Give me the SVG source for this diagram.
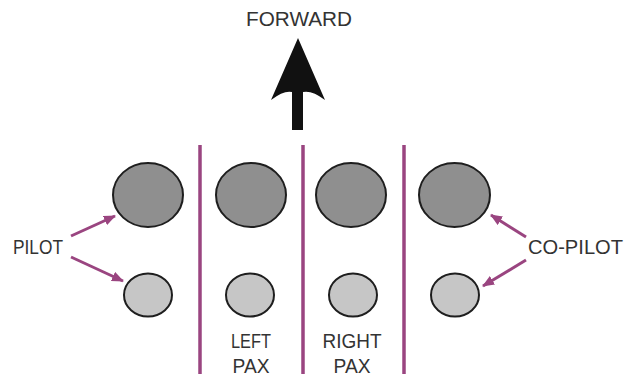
<svg xmlns="http://www.w3.org/2000/svg" width="637" height="376" viewBox="0 0 637 376">
  <style>
    .lbl { font-family: "Liberation Sans", Arial, sans-serif; font-size: 20px; fill: #333; }
    .div { stroke: #9a4580; stroke-width: 3.5; }
    .seat { fill: #8f8f8f; stroke: #1e1e1e; stroke-width: 2; }
    .cush { fill: #c6c6c6; stroke: #1e1e1e; stroke-width: 2; }
    .ptr { stroke: #9a4580; stroke-width: 3; fill: none; marker-end: url(#head); }
  </style>
  <defs>
    <marker id="head" viewBox="0 0 12 10" refX="11" refY="5" markerWidth="12" markerHeight="10" markerUnits="userSpaceOnUse" orient="auto">
      <path d="M0,0 L12,5 L0,10 Z" fill="#9a4580"/>
    </marker>
  </defs>

  <rect width="637" height="376" fill="#ffffff"/>

  <!-- direction of travel -->
  <g id="forward">
    <text class="lbl" x="299" y="26" text-anchor="middle" textLength="106" lengthAdjust="spacingAndGlyphs">FORWARD</text>
    <path d="M298,38 L325,100 Q312,90 303,92 L303,130 L292,130 L292,92 Q284,90 271,100 Z" fill="#111"/>
  </g>

  <!-- row dividers -->
  <g id="dividers">
    <line class="div" x1="200" y1="145" x2="200" y2="374"/>
    <line class="div" x1="303" y1="145" x2="303" y2="374"/>
    <line class="div" x1="404" y1="145" x2="404" y2="374"/>
  </g>

  <g id="seat-pilot">
    <ellipse class="seat" cx="148" cy="195" rx="35" ry="32"/>
    <ellipse class="cush" cx="148" cy="295" rx="24" ry="21.5"/>
  </g>
  <g id="seat-left-pax">
    <ellipse class="seat" cx="251" cy="195" rx="35" ry="32"/>
    <ellipse class="cush" cx="250" cy="295" rx="24" ry="21.5"/>
    <text class="lbl" x="251" y="348" text-anchor="middle" textLength="40" lengthAdjust="spacingAndGlyphs">LEFT</text>
    <text class="lbl" x="251" y="373" text-anchor="middle" textLength="37" lengthAdjust="spacingAndGlyphs">PAX</text>
  </g>
  <g id="seat-right-pax">
    <ellipse class="seat" cx="351" cy="195" rx="35" ry="32"/>
    <ellipse class="cush" cx="353" cy="295" rx="24" ry="21.5"/>
    <text class="lbl" x="352" y="348" text-anchor="middle" textLength="59" lengthAdjust="spacingAndGlyphs">RIGHT</text>
    <text class="lbl" x="352" y="373" text-anchor="middle" textLength="37" lengthAdjust="spacingAndGlyphs">PAX</text>
  </g>
  <g id="seat-copilot">
    <ellipse class="seat" cx="454.5" cy="195" rx="35.5" ry="32"/>
    <ellipse class="cush" cx="455" cy="295" rx="24" ry="21.5"/>
  </g>

  <g id="pilot-label">
    <text class="lbl" x="13" y="254" textLength="50" lengthAdjust="spacingAndGlyphs">PILOT</text>
  </g>
  <g id="copilot-label">
    <text class="lbl" x="528" y="254" textLength="95" lengthAdjust="spacingAndGlyphs">CO-PILOT</text>
  </g>

  <!-- label pointers -->
  <g id="connectors">
    <line class="ptr" x1="71" y1="236" x2="115" y2="216"/>
    <line class="ptr" x1="71" y1="257" x2="123" y2="281"/>
    <line class="ptr" x1="526" y1="237" x2="491" y2="215"/>
    <line class="ptr" x1="526" y1="260" x2="483" y2="286"/>
  </g>
</svg>
